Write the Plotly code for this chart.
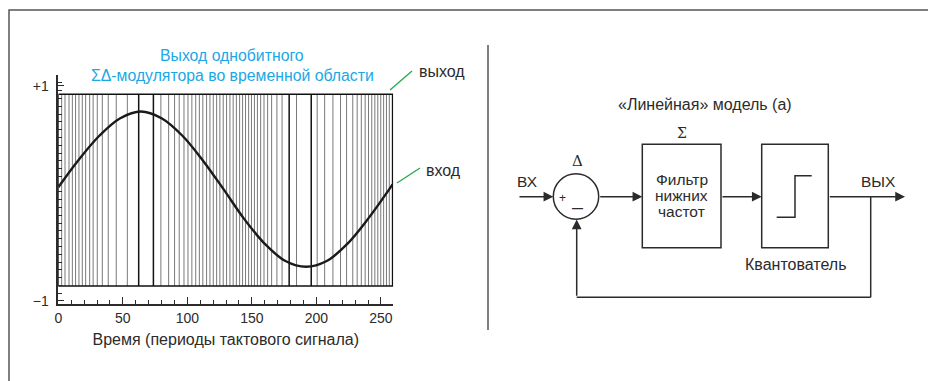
import plotly.graph_objects as go

W, H = 936, 381
OFF = 8  # page body margin of the rendered html

# ---------------- data ----------------
time_pts = [0, 16, 32, 48, 64, 80, 96, 112, 128, 144, 160, 176, 192, 208, 224, 240, 256, 259]
input_vals = [0.03, 0.32, 0.57, 0.75, 0.82, 0.75, 0.57, 0.31, 0.01, -0.30, -0.56, -0.74, -0.80,
              -0.74, -0.56, -0.30, 0.00, 0.06]
bit_edges = [2.6, 5.2, 8.3, 10.9, 13.4, 16.0, 18.6, 21.2, 24.3, 27.0, 30.2, 34.1, 38.7, 44.9,
             53.5, 79.5, 85.5, 90.1, 93.7, 97.4, 100.5, 103.5, 106.5, 109.3, 112.0, 114.9,
             117.5, 120.1, 122.7, 125.2, 127.8, 130.4, 133.0, 135.5, 138.0, 140.5, 142.8,
             145.1, 147.5, 149.7, 152.0, 154.3, 156.8, 159.4, 162.2, 165.3, 169.4, 173.4,
             184.6, 200.6, 206.4, 212.8, 218.7, 223.4, 228.2, 231.6, 234.8, 237.8, 240.4,
             242.9, 245.3, 247.6, 249.9, 252.1, 254.3, 256.5]
bit_edges_bold = [62.3, 73.7, 178.9, 196.0]
out_levels = [-1, 1]
x_end = 259
x_tick_vals = [0, 50, 100, 150, 200, 250]
y_tick_vals = [1.087, -1.156]
y_tick_text = ["+1", "\u22121"]

FONT = "Liberation Sans, Arial, sans-serif"
DARK = "#2b2b2b"
CYAN = "#1aa7e6"
GREEN = "#23a84a"


def px(x):
    return (x - OFF) / W


def py(y):
    return 1 - (y - OFF) / H


def vlines(edges):
    xs, ys = [], []
    for e in edges:
        xs += [e, e, None]
        ys += [out_levels[0], out_levels[1], None]
    return xs, ys


fig = go.Figure()

xs, ys = vlines(bit_edges)
fig.add_trace(go.Scatter(x=xs, y=ys, mode="lines", line=dict(color="#6a6a6a", width=0.9),
                         hoverinfo="skip", showlegend=False))
xs, ys = vlines(bit_edges_bold)
fig.add_trace(go.Scatter(x=xs, y=ys, mode="lines", line=dict(color="#111", width=1.5),
                         hoverinfo="skip", showlegend=False))
# envelope of the bitstream
fig.add_trace(go.Scatter(x=[0, x_end, x_end, 0, 0],
                         y=[out_levels[1], out_levels[1], out_levels[0], out_levels[0], out_levels[1]],
                         mode="lines", line=dict(color="#111", width=1.4),
                         hoverinfo="skip", showlegend=False))
# input sine
fig.add_trace(go.Scatter(x=time_pts, y=input_vals, mode="lines",
                         line=dict(color="#1a1a1a", width=2.4, shape="spline"),
                         hoverinfo="skip", showlegend=False))

x0p, x1p = 58.3, 393.3
y_top_px, y_bot_px = 75, 304
fig.update_layout(
    width=W, height=H,
    margin=dict(l=0, r=0, t=0, b=0, autoexpand=False),
    paper_bgcolor="white", plot_bgcolor="white",
    font=dict(family=FONT, color=DARK),
    xaxis=dict(domain=[px(x0p), px(x1p)], range=[0, 259.6], automargin=False,
               showgrid=False, zeroline=False, showline=True, linecolor=DARK, linewidth=1.5,
               ticks="inside", ticklen=7, tickwidth=1.2, tickcolor=DARK,
               tickvals=x_tick_vals, tickfont=dict(size=14, color=DARK),
               minor=dict(dtick=10, tick0=0, ticks="inside", ticklen=4, tickcolor=DARK, tickwidth=1),
               title=dict(text="Время (периоды тактового сигнала)", font=dict(size=16, color=DARK),
                          standoff=9)),
    yaxis=dict(domain=[py(y_bot_px), py(y_top_px)], range=[-1.188, 1.201], automargin=False,
               showgrid=False, zeroline=False, showline=True, linecolor=DARK, linewidth=1.5,
               ticks="inside", ticklen=6, tickwidth=1.2, tickcolor=DARK,
               tickvals=y_tick_vals, ticktext=y_tick_text, tickfont=dict(size=14, color=DARK),
               ticklabelstandoff=5,
               minor=dict(tick0=-1.156, dtick=0.0812, ticks="inside", ticklen=4,
                          tickcolor=DARK, tickwidth=1)),
)


shapes = []
annotations = []


def line(xa, ya, xb, yb, color=DARK, width=1.5):
    shapes.append(dict(type="line", xref="paper", yref="paper", x0=px(xa), y0=py(ya),
                       x1=px(xb), y1=py(yb), line=dict(color=color, width=width)))


def arrow(tx, ty, hx, hy):
    annotations.append(dict(xref="paper", yref="paper", x=px(hx), y=py(hy),
                            ax=tx - hx, ay=ty - hy, axref="pixel", ayref="pixel",
                            showarrow=True, arrowhead=2, arrowsize=1.3, arrowwidth=1.5,
                            arrowcolor=DARK, text=""))


def text(x, y, s, size=16, color=DARK, family=FONT):
    annotations.append(dict(xref="paper", yref="paper", x=px(x), y=py(y), text=s,
                            showarrow=False, font=dict(size=size, color=color, family=family),
                            xanchor="center", yanchor="middle"))


# outer frame and divider
shapes.append(dict(type="rect", xref="paper", yref="paper", x0=px(9), x1=px(929),
                   y0=py(400), y1=py(10), line=dict(color="#555", width=1.5)))
line(488, 45, 488, 330, color="#555", width=1.5)

# left panel labels
text(232, 55, "Выход однобитного", size=15.8, color=CYAN)
text(232, 75, "ΣΔ-модулятора во временной области", size=15.8, color=CYAN)
text(442, 71, "выход", size=16)
text(443, 170, "вход", size=16)
line(390, 90, 412, 71, color=GREEN, width=1.3)
line(397, 183, 420, 168, color=GREEN, width=1.3)

# right panel: block diagram
text(705, 104, "«Линейная» модель (а)", size=16)
text(682, 133, "Σ", size=14, family="DejaVu Serif")
text(577, 161, "Δ", size=15, family="DejaVu Serif")
text(527, 181, "ВХ", size=15.5)
text(878, 181, "ВЫХ", size=15.5)

# summing junction
cx, cy, r = 576, 196.5, 22.7
shapes.append(dict(type="circle", xref="paper", yref="paper", x0=px(cx - r), x1=px(cx + r),
                   y0=py(cy + r), y1=py(cy - r), line=dict(color=DARK, width=1.5)))
text(562, 198, "+", size=12)
text(577, 208, "<b>—</b>", size=11)

# low-pass filter box
shapes.append(dict(type="rect", xref="paper", yref="paper", x0=px(642.3), x1=px(721),
                   y0=py(247.7), y1=py(144.3), line=dict(color=DARK, width=1.5)))
text(681.5, 180, "Фильтр", size=15.5)
text(681.5, 195.5, "нижних", size=15.5)
text(681.5, 211, "частот", size=15.5)

# quantizer box
shapes.append(dict(type="rect", xref="paper", yref="paper", x0=px(761.7), x1=px(828.3),
                   y0=py(247.7), y1=py(144.3), line=dict(color=DARK, width=1.5)))
step = [(776.7, 217.3), (795, 217.3), (795, 175.7), (811.7, 175.7)]
path = "M " + " L ".join(f"{px(a):.5f},{py(b):.5f}" for a, b in step)
shapes.append(dict(type="path", xref="paper", yref="paper", path=path,
                   line=dict(color=DARK, width=1.5)))
text(795, 264, "Квантователь", size=16)

# signal flow
yl = 196.7
arrow(518, yl, 553.3, yl)
arrow(598.7, yl, 642.3, yl)
arrow(721, yl, 761.7, yl)
arrow(828.3, yl, 905, yl)
line(870.7, yl, 870.7, 297.3)
line(870.7, 297.3, 576.7, 297.3)
arrow(576.7, 297.3, 576.7, 219.5)

fig.update_layout(shapes=shapes, annotations=annotations)

fig.write_html("out.html")
